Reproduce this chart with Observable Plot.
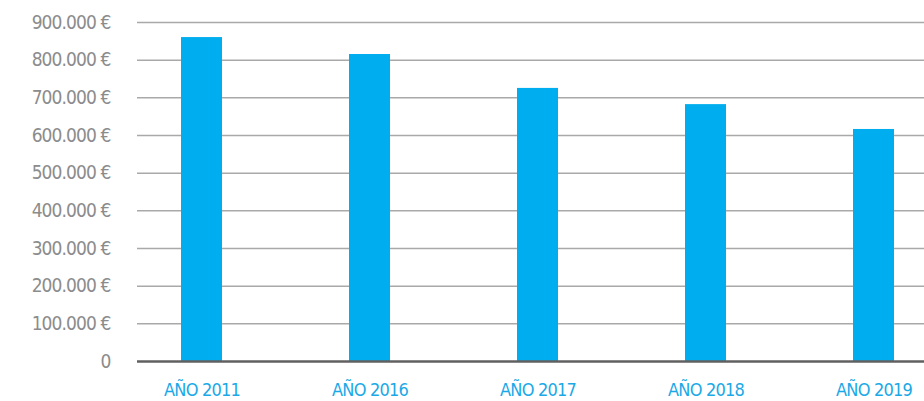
<!DOCTYPE html>
<html>
<head>
<meta charset="utf-8">
<script src="https://cdn.jsdelivr.net/npm/d3@7"></script>
<script src="https://cdn.jsdelivr.net/npm/@observablehq/plot@0.6"></script>
<style>
  html, body { margin: 0; padding: 0; background: #fff; }
  #chart svg { display: block; }
  .ylab text { letter-spacing: -0.9px; }
  .xlab text { letter-spacing: -0.8px; }
</style>
</head>
<body>
<div id="chart"></div>
<script>
const categories = ["AÑO 2011", "AÑO 2016", "AÑO 2017", "AÑO 2018", "AÑO 2019"];
const values = [860000, 815000, 725000, 682000, 616000];
const yTicks = [0, 100000, 200000, 300000, 400000, 500000, 600000, 700000, 800000, 900000];

const data = categories.map((c, i) => ({ year: c, value: values[i] }));
const fmt = d => d === 0 ? "0" : d3.format(",")(d).replace(/,/g, ".") + " €";
const font = "'DejaVu Sans Condensed', 'DejaVu Sans', sans-serif";

const chart = Plot.plot({
  width: 924,
  height: 401,
  marginLeft: 137,
  marginRight: 0,
  marginTop: 22,
  marginBottom: 40,
  style: { fontFamily: font, background: "#fff" },
  x: { domain: categories, range: [181, 894], paddingInner: 0.756, paddingOuter: 0, label: null },
  y: { domain: [0, 900000], label: null },
  marks: [
    Plot.gridY(yTicks.filter(d => d > 0), { stroke: "#a9a9a9", strokeOpacity: 1, strokeWidth: 1.5 }),
    Plot.barY(data, { x: "year", y: "value", fill: "#00AEEF" }),
    Plot.ruleY([0], { stroke: "#606060", strokeWidth: 2.5 }),
    Plot.axisY(yTicks, { tickSize: 0, tickPadding: 27, tickFormat: fmt, fontSize: 19, fill: "#8c8c8c", label: null, className: "ylab" }),
    Plot.axisX(categories, { tickSize: 0, tickPadding: 22, fontSize: 18, fill: "#1aa9e6", label: null, className: "xlab" })
  ]
});
document.getElementById("chart").appendChild(chart);
</script>
</body>
</html>
